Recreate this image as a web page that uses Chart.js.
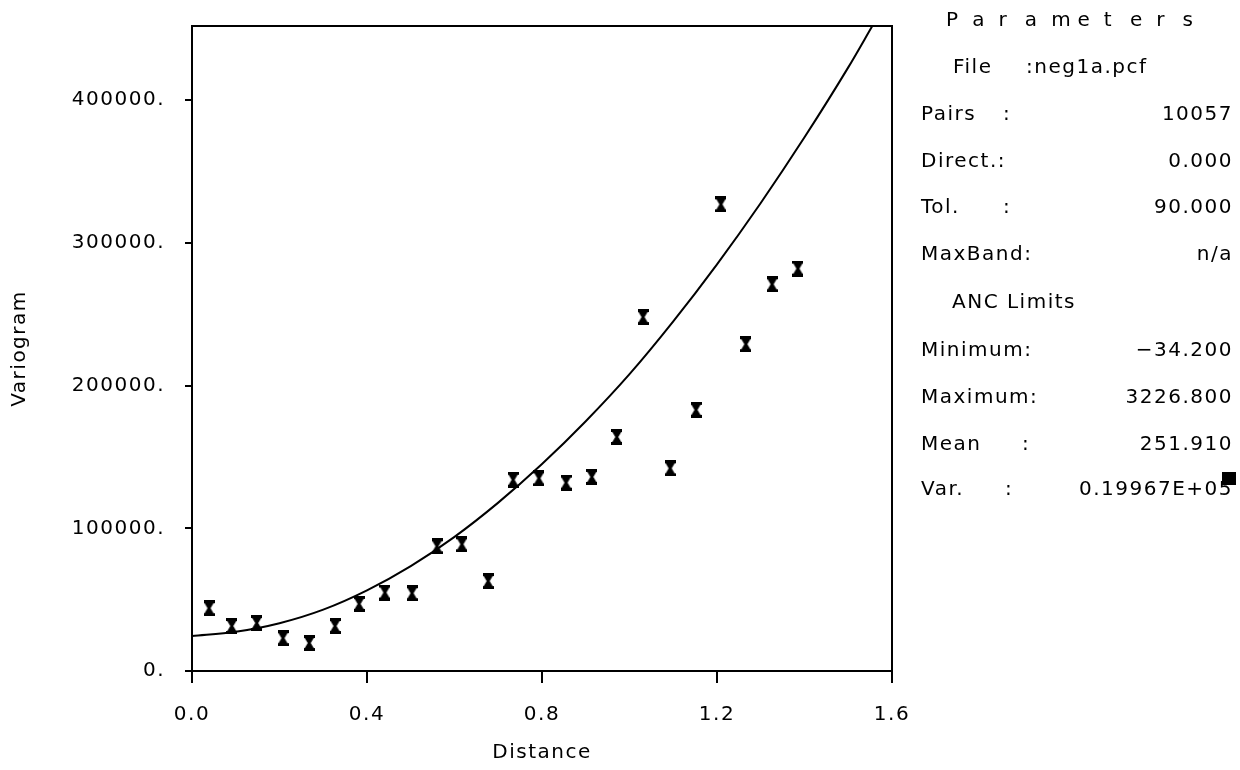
<!DOCTYPE html>
<html>
<head>
<meta charset="utf-8">
<script src="https://cdn.jsdelivr.net/npm/chart.js@4/dist/chart.umd.min.js"></script>
<style>
  html, body { margin: 0; padding: 0; background: #ffffff; }
  #wrap { position: relative; width: 1240px; height: 770px; }
  canvas { display: block; }
</style>
</head>
<body>
<div id="wrap"><canvas id="c" width="1240" height="770"></canvas></div>
<script>
// ---- Data ----
const lagDistance = [0.039, 0.091, 0.148, 0.208, 0.268, 0.327, 0.382, 0.441, 0.503, 0.560, 0.617, 0.677,
                     0.734, 0.793, 0.855, 0.914, 0.971, 1.031, 1.093, 1.152, 1.209, 1.266, 1.326, 1.385];
const variogramValues = [44000, 31500, 33600, 23000, 19600, 31500, 47000, 55000, 54500, 87400, 88800, 63000,
                         134000, 135000, 132000, 136000, 164000, 248000, 142000, 183000, 327000, 229000, 271000, 282000];
const modelDistance = [0.0, 0.1, 0.2, 0.3, 0.4, 0.5, 0.6, 0.7, 0.8, 0.9, 1.0, 1.1, 1.2, 1.3, 1.4, 1.5, 1.555];
const modelValues   = [24500, 27500, 33500, 43000, 56500, 73500, 94000, 118000, 145000, 175000, 208000,
                       245000, 285000, 328000, 374000, 423000, 452000];
const yTickValues = [0, 100000, 200000, 300000, 400000];
const xTickValues = [0.0, 0.4, 0.8, 1.2, 1.6];
const paramLabels = ["Pairs", "Direct.:", "Tol.", "MaxBand:"];
const paramValues = ["10057", "0.000", "90.000", "n/a"];
const ancLabels = ["Minimum:", "Maximum:", "Mean", "Var."];
const ancValues = ["\u221234.200", "3226.800", "251.910", "0.19967E+05"];

const FONT = '"DejaVu Sans", sans-serif';
const FSIZE = 20;
const SPACING = '1.5px';

// hourglass marker
const marker = document.createElement('canvas');
marker.width = 11; marker.height = 16;
(function () {
  const m = marker.getContext('2d');
  m.fillStyle = '#000';
  m.fillRect(0, 0, 11, 3);
  m.fillRect(0, 13, 11, 3);
  m.beginPath();
  m.moveTo(1, 3); m.lineTo(10, 3); m.lineTo(7, 8); m.lineTo(10, 13); m.lineTo(1, 13); m.lineTo(4, 8);
  m.closePath();
  m.fill();
})();

const spacingPlugin = {
  id: 'spacing',
  beforeUpdate(chart) { chart.ctx.letterSpacing = SPACING; },
  beforeLayout(chart) { chart.ctx.letterSpacing = SPACING; },
  beforeDraw(chart) { chart.ctx.letterSpacing = SPACING; }
};

const framePlugin = {
  id: 'frame',
  afterDatasetsDraw(chart) {
    const { ctx, chartArea: a } = chart;
    ctx.save();
    ctx.strokeStyle = '#000';
    ctx.lineWidth = 2;
    ctx.beginPath();
    ctx.moveTo(a.left, a.top); ctx.lineTo(a.right, a.top); ctx.lineTo(a.right, a.bottom);
    ctx.stroke();
    ctx.restore();
  },
  afterDraw(chart) {
    const ctx = chart.ctx;
    ctx.save();
    ctx.fillStyle = '#000';
    ctx.textBaseline = 'middle';
    ctx.font = FSIZE + 'px ' + FONT;
    ctx.letterSpacing = '0px';
    // Title, letter spaced
    const title = 'Parameters';
    const x0 = 946, x1 = 1193;
    const step = (x1 - x0 - ctx.measureText('s').width) / (title.length - 1);
    ctx.textAlign = 'left';
    for (let i = 0; i < title.length; i++) ctx.fillText(title[i], x0 + i * step, 21);
    ctx.letterSpacing = SPACING;
    ctx.fillText('File', 953, 68);
    ctx.fillText(':neg1a.pcf', 1026, 68);
    const rowY = [115, 162, 208, 255];
    const colonX = [1003, 0, 1003, 0];
    for (let i = 0; i < 4; i++) {
      ctx.textAlign = 'left';
      ctx.fillText(paramLabels[i], 921, rowY[i]);
      if (colonX[i]) ctx.fillText(':', colonX[i], rowY[i]);
      ctx.textAlign = 'right';
      ctx.fillText(paramValues[i], 1233, rowY[i]);
    }
    ctx.textAlign = 'left';
    ctx.fillText('ANC Limits', 952, 303);
    const rowY2 = [351, 398, 445, 490];
    const colonX2 = [0, 0, 1022, 1005];
    for (let i = 0; i < 4; i++) {
      ctx.textAlign = 'left';
      ctx.fillText(ancLabels[i], 921, rowY2[i]);
      if (colonX2[i]) ctx.fillText(':', colonX2[i], rowY2[i]);
      ctx.textAlign = 'right';
      ctx.fillText(ancValues[i], 1233, rowY2[i]);
    }
    ctx.fillRect(1222, 472, 14, 13);
    ctx.restore();
  }
};

new Chart(document.getElementById('c'), {
  type: 'scatter',
  data: {
    datasets: [
      {
        label: 'Model',
        data: modelDistance.map((x, i) => ({ x, y: modelValues[i] })),
        showLine: true,
        borderColor: '#000',
        borderWidth: 2,
        pointRadius: 0,
        cubicInterpolationMode: 'monotone',
        fill: false,
        order: 2
      },
      {
        label: 'Variogram',
        data: lagDistance.map((x, i) => ({ x, y: variogramValues[i] })),
        showLine: false,
        pointStyle: marker,
        pointRadius: 6,
        order: 1
      }
    ]
  },
  options: {
    responsive: false,
    animation: false,
    layout: { padding: { top: 26, right: 348, left: 0, bottom: 0 } },
    plugins: { legend: { display: false }, tooltip: { enabled: false } },
    scales: {
      x: {
        type: 'linear',
        min: 0, max: 1.6,
        afterFit(s) { s.height = 99; s.paddingLeft = 0; s.paddingRight = 0; },
        afterBuildTicks(s) { s.ticks = xTickValues.map(v => ({ value: v })); },
        border: { display: true, color: '#000', width: 2 },
        grid: { drawOnChartArea: false, color: '#000', lineWidth: 2, tickLength: 12 },
        ticks: {
          color: '#000', padding: 20, maxRotation: 0,
          font: { family: FONT, size: FSIZE },
          callback: v => Number(v).toFixed(1)
        },
        title: {
          display: true, text: 'Distance', color: '#000',
          font: { family: FONT, size: FSIZE }, padding: { top: 0, bottom: 5 }
        }
      },
      y: {
        type: 'linear',
        min: 0, max: 452000,
        afterFit(s) { s.width = 192; s.paddingTop = 0; s.paddingBottom = 0; },
        afterBuildTicks(s) { s.ticks = yTickValues.map(v => ({ value: v })); },
        border: { display: true, color: '#000', width: 2 },
        grid: { drawOnChartArea: false, color: '#000', lineWidth: 2, tickLength: 7 },
        ticks: {
          color: '#000', padding: 20,
          font: { family: FONT, size: FSIZE },
          callback: v => String(v) + '.'
        },
        title: {
          display: true, text: 'Variogram', color: '#000',
          font: { family: FONT, size: FSIZE }, padding: { top: 8, bottom: 0 }
        }
      }
    }
  },
  plugins: [spacingPlugin, framePlugin]
});
</script>
</body>
</html>
